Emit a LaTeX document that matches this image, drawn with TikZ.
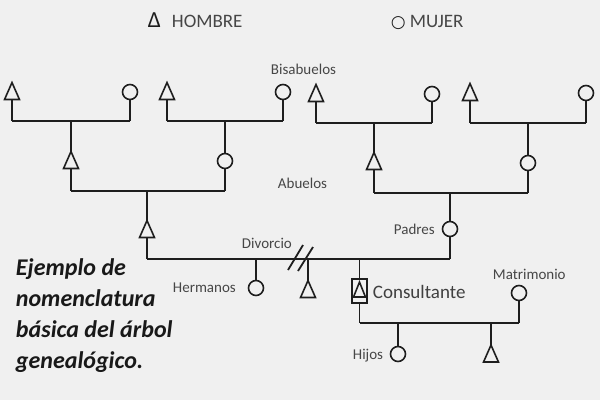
\documentclass[tikz,border=0pt]{standalone}
\usepackage{fontspec}
\setmainfont{Carlito}
\newfontfamily\symbfont{DejaVu Sans}
\usetikzlibrary{calc}

\definecolor{bg}{RGB}{240,240,240}
\definecolor{ln}{RGB}{30,30,30}
\definecolor{txt}{RGB}{70,70,70}

\begin{document}
\begin{tikzpicture}[x=1pt, y=-1pt, line width=1.9pt, draw=ln,
    man/.style={inner sep=0pt, minimum width=13pt, minimum height=15pt,
        append after command={\pgfextra{\draw[line width=1.6pt]
            (\tikzlastnode.south west) -- (\tikzlastnode.north)
            -- (\tikzlastnode.south east) -- cycle;}}},
    woman/.style={circle, draw, line width=1.6pt, inner sep=0pt, minimum size=15pt},
    bar/.style={line width=2.7pt},
    lbl/.style={anchor=base west, inner sep=0pt, text=txt, font=\fontsize{15}{18}\selectfont}]
    \fill[bg] (0,0) rectangle (600,400);
    \useasboundingbox (0,0) rectangle (600,400);

    % leyenda
    \node[anchor=base west, inner sep=0pt, text=ln, font=\fontsize{19}{22}\selectfont]
        (leg-m) at (147,27) {{\fontsize{23}{24}\selectfont Δ}\hspace{11pt}\textcolor{txt}{HOMBRE}};
    \node[anchor=base west, inner sep=0pt, text=ln, font=\fontsize{19}{22}\selectfont]
        (leg-w) at (390,27) {{\symbfont\fontsize{17}{18}\selectfont ○}\hspace{4pt}\textcolor{txt}{MUJER}};

    % bisabuelos
    \foreach[count=\i] \xm/\xw/\yp/\yb in {12/130/91/121, 167/283/91/121, 316/432/93/123, 470/586/92/123} {
        \node[man] (bm-\i) at (\xm,\yp) {};
        \node[woman] (bw-\i) at (\xw,\yp+1) {};
        \coordinate (bb-\i) at ({(\xm+\xw)/2},\yb);
        \draw[bar] (bm-\i |- bb-\i) -- (bw-\i |- bb-\i);
        \draw (bm-\i) -- (bm-\i |- bb-\i) (bw-\i) -- (bw-\i |- bb-\i);
    }

    % abuelos
    \node[man] (am-1) at (71,160) {};
    \node[woman] (aw-1) at (225,161) {};
    \node[man] (am-2) at (374,161) {};
    \node[woman] (aw-2) at (528,163) {};
    \foreach \a/\b in {bb-1/am-1, bb-2/aw-1, bb-3/am-2, bb-4/aw-2}
        \draw (\a) -- (\b);
    \coordinate (ab-1) at (147,191);
    \coordinate (ab-2) at (450,193);
    \draw[bar] (am-1 |- ab-1) -- (aw-1 |- ab-1);
    \draw[bar] (am-2 |- ab-2) -- (aw-2 |- ab-2);
    \draw (am-1) -- (am-1 |- ab-1) (aw-1) -- (aw-1 |- ab-1);
    \draw (am-2) -- (am-2 |- ab-2) (aw-2) -- (aw-2 |- ab-2);

    % padres
    \node[man] (pm) at (147,229) {};
    \node[woman] (pw) at (450,229) {};
    \draw (ab-1) -- (pm) (ab-2) -- (pw);
    \coordinate (div) at (300,259);
    \draw[bar] (pm |- div) -- (pw |- div);
    \draw (pm) -- (pm |- div) (pw) -- (pw |- div);
    \draw[line width=1.8pt] ($(div)+(-12,11)$) -- ($(div)+(3,-14)$)
        ($(div)+(-2,12)$) -- ($(div)+(13,-12)$);

    % hermanos y consultante
    \node[woman] (sis) at (256,288) {};
    \node[man] (bro) at (308,289) {};
    \node[draw, line width=1.6pt, inner sep=0pt, minimum width=15pt, minimum height=24pt] (ego) at (359.5,291) {};
    \node[man, minimum width=10pt, minimum height=13pt] (ego-t) at (359.5,289.5) {};
    \foreach \n in {sis, bro, ego}
        \draw (\n) -- (\n |- div);

    % matrimonio e hijos
    \node[woman] (wife) at (519,293) {};
    \coordinate (mb) at (440,323);
    \draw (ego |- mb) -- (wife |- mb);
    \draw (ego) -- (ego |- mb) (wife) -- (wife |- mb);
    \node[woman] (kid-1) at (398,354) {};
    \node[man] (kid-2) at (491,353.5) {};
    \draw (kid-1 |- mb) -- (kid-1) (kid-2 |- mb) -- (kid-2);

    % etiquetas
    \node[lbl] (l-bis) at (270,74) {Bisabuelos};
    \node[lbl] (l-abu) at (277,188) {Abuelos};
    \node[lbl] (l-pad) at (393,234) {Padres};
    \node[lbl] (l-div) at (241,248) {Divorcio};
    \node[lbl] (l-her) at (172,292) {Hermanos};
    \node[lbl, text=ln!85, font=\fontsize{19}{22}\selectfont] (l-ego) at (372,298) {Consultante};
    \node[lbl] (l-mat) at (492,279) {Matrimonio};
    \node[lbl] (l-hij) at (352,359) {Hijos};

    \node[anchor=base west, align=left, inner sep=0pt, text=black!90,
        font=\fontsize{24}{31}\selectfont\bfseries\itshape] (titulo) at (15,368)
        {Ejemplo de\\nomenclatura\\básica del árbol\\genealógico.};
\end{tikzpicture}
\end{document}
